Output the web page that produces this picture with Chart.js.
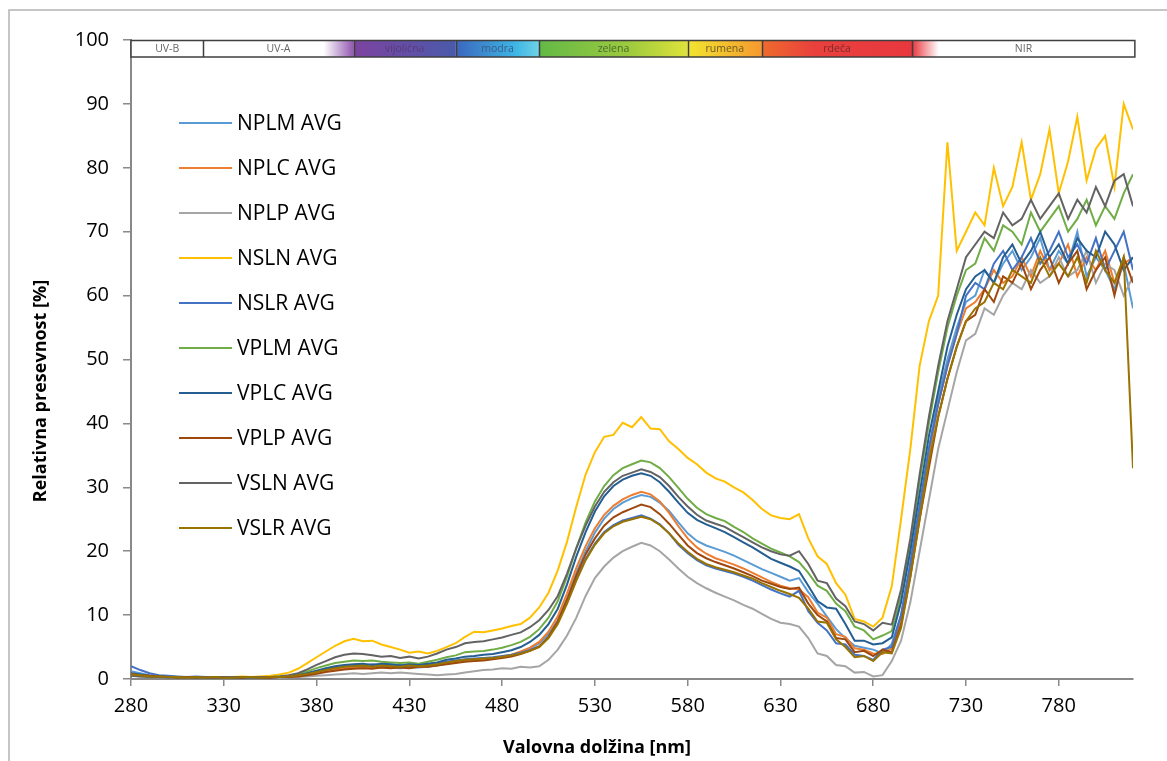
<!DOCTYPE html>
<html lang="sl">
<head>
<meta charset="UTF-8">
<title>Relativna presevnost</title>
<script src="https://cdn.jsdelivr.net/npm/chart.js@4"></script>
<style>
  html, body { margin: 0; padding: 0; background: #fff; }
  #wrap { position: relative; width: 1167px; height: 761px; }
</style>
</head>
<body>
<div id="wrap"><canvas id="chart" width="1167" height="761"></canvas></div>
<script>
// wavelength grid [nm]
const wavelengths = [
  280,285,290,295,300,305,310,315,320,325,
  330,335,340,345,350,355,360,365,370,375,
  380,385,390,395,400,405,410,415,420,425,
  430,435,440,445,450,455,460,465,470,475,
  480,485,490,495,500,505,510,515,520,525,
  530,535,540,545,550,555,560,565,570,575,
  580,585,590,595,600,605,610,615,620,625,
  630,635,640,645,650,655,660,665,670,675,
  680,685,690,695,700,705,710,715,720,725,
  730,735,740,745,750,755,760,765,770,775,
  780,785,790,795,800,805,810,815,820
];
const xTicks = [280, 330, 380, 430, 480, 530, 580, 630, 680, 730, 780];
const yTicks = [0, 10, 20, 30, 40, 50, 60, 70, 80, 90, 100];

const seriesNames = ['NPLM AVG', 'NPLC AVG', 'NPLP AVG', 'NSLN AVG', 'NSLR AVG',
                     'VPLM AVG', 'VPLC AVG', 'VPLP AVG', 'VSLN AVG', 'VSLR AVG'];
const seriesColors = ['#5B9BD5', '#ED7D31', '#A5A5A5', '#FFC000', '#4472C4',
                      '#70AD47', '#255E91', '#9E480E', '#636363', '#997300'];

// relative transmittance [%]
const nplm = [
  1.2,0.9,0.6,0.5,0.4,0.3,0.3,0.2,0.3,0.2,
  0.2,0.3,0.2,0.2,0.3,0.2,0.3,0.4,0.5,0.7,
  1.0,1.3,1.6,1.7,1.8,1.9,1.8,1.9,1.8,1.7,
  1.8,1.8,1.9,2.1,2.4,2.6,2.8,2.9,3.0,3.2,
  3.4,3.7,4.1,4.7,5.6,7.0,9.2,12.6,16.6,20.0,
  22.9,25.1,26.6,27.6,28.3,28.8,28.5,27.6,26.3,24.5,
  22.8,21.6,20.9,20.4,19.9,19.3,18.6,17.9,17.2,16.6,
  16.0,15.4,15.8,13.6,11.8,9.8,7.8,6.4,5.2,4.9,
  4.6,4.0,5.5,10,18,27,36,44,50,55,
  59,60,64,62,65,67,64,66,69,64,
  67,65,70,63,66,64,61,65,58
];
const nplc = [
  0.8,0.6,0.5,0.4,0.3,0.3,0.2,0.3,0.2,0.3,
  0.2,0.2,0.3,0.2,0.3,0.2,0.3,0.3,0.4,0.6,
  0.9,1.2,1.5,1.7,1.8,1.8,1.9,1.8,1.8,1.9,
  1.8,1.9,2.0,2.2,2.5,2.7,2.9,3.0,3.1,3.3,
  3.5,3.8,4.3,4.9,5.8,7.4,9.8,13.4,17.4,20.8,
  23.6,25.7,27.1,28.1,28.8,29.3,28.9,27.8,26.0,23.9,
  22.0,20.6,19.6,18.9,18.4,17.9,17.3,16.6,15.9,15.2,
  14.6,14.2,14.0,12.8,10.4,9.6,7.0,6.6,4.8,4.6,
  4.0,3.9,4.8,9,17,26,35,43,49,54,
  58,59,61,64,62,63,66,63,67,64,
  65,68,63,66,64,67,62,65,66
];
const nplp = [
  0.5,0.4,0.3,0.3,0.2,0.2,0.3,0.2,0.2,0.2,
  0.3,0.2,0.2,0.2,0.3,0.2,0.2,0.3,0.3,0.4,
  0.5,0.6,0.7,0.8,0.9,0.8,0.9,1.0,0.9,1.0,
  0.9,0.8,0.7,0.6,0.7,0.8,1.0,1.2,1.4,1.5,
  1.7,1.6,1.9,1.8,2.0,3.0,4.6,6.8,9.6,13.0,
  15.8,17.6,19.0,20.0,20.7,21.3,20.9,20.0,18.7,17.3,
  16.0,15.0,14.2,13.5,12.9,12.3,11.6,11.0,10.2,9.4,
  8.8,8.6,8.2,6.4,4.0,3.6,2.2,2.0,1.0,1.1,
  0.4,0.6,2.8,6,12,20,28,36,42,48,
  53,54,58,57,60,62,61,64,62,63,
  66,63,64,67,62,65,64,60,63
];
const nsln = [
  0.6,0.5,0.4,0.3,0.4,0.3,0.2,0.3,0.3,0.2,
  0.3,0.3,0.4,0.3,0.4,0.5,0.7,1.0,1.6,2.5,
  3.4,4.3,5.2,5.9,6.3,5.9,6.0,5.4,5.0,4.6,
  4.1,4.3,4.0,4.4,5.0,5.6,6.6,7.4,7.3,7.6,
  7.9,8.3,8.6,9.6,11.2,13.5,17,21.5,27,32,
  35.5,37.9,38.2,40.1,39.4,41.0,39.2,39.1,37.2,36.0,
  34.6,33.6,32.3,31.4,30.9,30.0,29.2,28.0,26.6,25.6,
  25.2,25.0,25.8,22.0,19.2,18.0,15.0,13.2,9.4,9.0,
  8.2,9.6,14.5,25,36,49,56,60,84,67,
  70,73,71,80,74,77,84,75,79,86,
  76,81,88,78,83,85,77,90,86
];
const nslr = [
  2.0,1.4,0.9,0.6,0.5,0.4,0.3,0.4,0.3,0.3,
  0.2,0.3,0.3,0.2,0.3,0.2,0.3,0.4,0.6,0.9,
  1.2,1.5,1.8,2.0,2.2,2.1,2.3,2.2,2.1,2.2,
  2.0,2.2,2.3,2.5,2.7,2.9,3.1,3.2,3.3,3.4,
  3.6,3.8,4.1,4.5,5.1,6.5,8.8,12.0,15.6,18.8,
  21.2,23.0,24.1,24.8,25.2,25.6,25.1,24.2,22.8,21.0,
  19.7,18.6,17.8,17.3,16.9,16.5,16.0,15.4,14.7,14.0,
  13.4,12.9,13.8,10.6,8.8,7.6,5.6,5.4,3.8,3.6,
  3.0,4.6,5.0,10,18,27,36,43,49,54,
  60,62,61,65,67,64,66,69,65,67,
  70,66,68,65,69,64,67,70,64
];
const vplm = [
  0.6,0.5,0.4,0.3,0.3,0.2,0.3,0.2,0.2,0.3,
  0.2,0.2,0.3,0.2,0.2,0.3,0.4,0.5,0.8,1.2,
  1.7,2.1,2.5,2.7,2.9,2.8,2.9,2.7,2.6,2.5,
  2.6,2.4,2.7,3.0,3.4,3.7,4.2,4.3,4.4,4.6,
  4.9,5.3,5.8,6.6,7.8,9.6,12.2,16.0,20.5,24.5,
  27.8,30.2,31.9,33.0,33.6,34.2,33.9,33.0,31.6,29.9,
  28.2,26.8,25.8,25.2,24.7,23.8,23.0,22.0,21.2,20.4,
  19.8,19.2,18.3,16.6,14.6,13.8,11.8,10.6,8.2,7.6,
  6.2,6.8,7.5,13,21,31,40,48,55,60,
  64,65,69,67,71,70,68,73,70,72,
  74,70,72,75,71,74,72,76,79
];
const vplc = [
  0.9,0.7,0.5,0.4,0.3,0.3,0.2,0.3,0.2,0.2,
  0.3,0.2,0.2,0.3,0.2,0.3,0.3,0.4,0.6,0.9,
  1.3,1.7,2.0,2.2,2.3,2.4,2.2,2.4,2.3,2.1,
  2.3,2.2,2.4,2.6,3.0,3.2,3.5,3.6,3.8,3.9,
  4.2,4.5,5.0,5.8,6.9,8.6,11.0,14.8,19.2,23.0,
  26.2,28.6,30.2,31.2,31.8,32.2,31.8,30.8,29.3,27.6,
  26.0,24.9,24.2,23.6,23.0,22.2,21.4,20.6,19.7,18.8,
  18.2,17.6,16.9,14.6,12.2,11.2,11.0,8.6,6.0,6.0,
  5.4,5.6,6.5,12,20,29,38,45,52,57,
  61,63,64,62,66,68,65,67,70,66,
  68,65,69,67,66,70,68,64,66
];
const vplp = [
  0.8,0.6,0.5,0.4,0.3,0.2,0.3,0.2,0.3,0.2,
  0.2,0.3,0.2,0.3,0.2,0.2,0.3,0.3,0.4,0.6,
  0.8,1.1,1.3,1.5,1.6,1.7,1.6,1.8,1.7,1.8,
  1.7,1.9,1.9,2.1,2.3,2.5,2.7,2.8,2.9,3.1,
  3.3,3.5,3.9,4.4,5.1,6.6,9.0,12.4,16.2,19.5,
  22.0,24.0,25.3,26.1,26.7,27.3,26.9,25.8,24.3,22.6,
  20.9,19.7,18.9,18.3,17.8,17.3,16.7,16.1,15.4,14.9,
  14.4,14.1,14.3,11.8,10.0,9.0,6.4,6.2,4.2,4.4,
  3.6,4.6,4.2,8.5,16,25,33,41,47,52,
  56,57,61,59,63,62,65,61,64,66,
  62,65,67,61,64,66,60,66,62
];
const vsln = [
  0.5,0.4,0.3,0.3,0.2,0.3,0.2,0.2,0.3,0.2,
  0.2,0.3,0.3,0.2,0.3,0.3,0.4,0.6,0.9,1.5,
  2.2,2.8,3.4,3.8,4.0,3.9,3.7,3.5,3.6,3.3,
  3.5,3.2,3.5,4.0,4.6,5.0,5.6,5.8,5.9,6.2,
  6.5,6.9,7.3,8.1,9.2,10.8,13.0,16.5,20.5,24.0,
  27.0,29.3,30.8,31.8,32.3,32.8,32.4,31.6,30.2,28.5,
  27.0,25.7,24.8,24.3,23.8,23.0,22.2,21.4,20.6,20.0,
  19.5,19.3,20.0,18.0,15.4,15.0,12.6,11.4,9.0,8.6,
  7.6,8.8,8.5,14,22,32,41,49,56,61,
  66,68,70,69,73,71,72,75,72,74,
  76,72,75,73,77,74,78,79,74
];
const vslr = [
  0.7,0.6,0.4,0.4,0.3,0.3,0.2,0.3,0.2,0.3,
  0.2,0.2,0.3,0.3,0.2,0.3,0.3,0.4,0.6,0.8,
  1.1,1.4,1.7,1.9,2.0,2.1,1.9,2.1,2.0,1.9,
  2.1,2.0,2.1,2.3,2.6,2.8,3.0,3.1,3.2,3.3,
  3.5,3.7,4.0,4.4,5.0,6.4,8.6,11.8,15.4,18.6,
  21.0,22.8,23.9,24.6,25.0,25.4,25.0,24.1,22.8,21.2,
  19.9,18.8,18.0,17.5,17.1,16.7,16.2,15.7,15.0,14.4,
  13.8,13.3,12.7,11.0,9.0,8.8,6.2,5.0,3.4,3.6,
  2.8,4.2,4.0,8,16,25,34,41,47,52,
  56,58,59,62,61,64,63,62,66,63,
  65,63,66,62,67,64,62,66,33
];
const seriesValues = [nplm, nplc, nplp, nsln, nslr, vplm, vplc, vplp, vsln, vslr];

// spectral band on top of the plot
const bandLabels = ['UV-B', 'UV-A', 'vijolična', 'modra', 'zelena', 'rumena', 'rdeča', 'NIR'];
const bandEdges = [280, 319, 400, 455, 500, 580, 620, 701, 821];

const bandFills = [
  [[0, '#ffffff'], [1, '#ffffff']],
  [[0, '#ffffff'], [0.8, '#ffffff'], [1, '#9256b0']],
  [[0, '#7d43a0'], [1, '#4a5aab']],
  [[0, '#3b66bd'], [0.7, '#3cb4e4'], [1, '#6fd3e6']],
  [[0, '#63b947'], [0.6, '#9dca3e'], [1, '#dfe33a']],
  [[0, '#f2e530'], [1, '#f5992f']],
  [[0, '#ee6b2d'], [0.35, '#e9403d'], [1, '#e8383f']],
  [[0, '#e8383f'], [0.12, '#ffffff'], [1, '#ffffff']]
];
const bandTextColors = ['#666', '#666', '#5a3a7a', '#3b5d86', '#4a6a30', '#6a5a22', '#7a2c2c', '#666'];

const FONT = '"Open Sans", "Liberation Sans", sans-serif';

const framePlugin = {
  id: 'frame',
  beforeDraw(chart) {
    const ctx = chart.ctx;
    ctx.save();
    ctx.fillStyle = '#fff';
    ctx.fillRect(0, 0, chart.width, chart.height);
    ctx.strokeStyle = '#b4b4b4';
    ctx.lineWidth = 1.5;
    ctx.beginPath();
    ctx.moveTo(9, chart.height);
    ctx.lineTo(9, 10);
    ctx.lineTo(chart.width, 10);
    ctx.stroke();
    ctx.restore();
  }
};

const spectrumPlugin = {
  id: 'spectrum',
  afterDraw(chart) {
    const ctx = chart.ctx;
    const xs = chart.scales.x;
    const top = 40.5, bottom = 57;
    ctx.save();
    for (let i = 0; i < bandLabels.length; i++) {
      const x0 = xs.getPixelForValue(bandEdges[i]);
      const x1 = xs.getPixelForValue(bandEdges[i + 1]);
      const g = ctx.createLinearGradient(x0, 0, x1, 0);
      bandFills[i].forEach(s => g.addColorStop(s[0], s[1]));
      ctx.fillStyle = g;
      ctx.fillRect(x0, top, x1 - x0, bottom - top);
    }
    ctx.strokeStyle = '#3f3f3f';
    ctx.lineWidth = 1.5;
    ctx.beginPath();
    for (let i = 1; i < bandLabels.length; i++) {
      const x = Math.round(xs.getPixelForValue(bandEdges[i])) + 0.5;
      ctx.moveTo(x, top);
      ctx.lineTo(x, bottom);
    }
    ctx.stroke();
    const l = xs.getPixelForValue(bandEdges[0]);
    const r = xs.getPixelForValue(bandEdges[bandEdges.length - 1]);
    ctx.strokeRect(l, top, r - l, bottom - top);

    ctx.font = '10.5px ' + FONT;
    ctx.textAlign = 'center';
    ctx.textBaseline = 'middle';
    for (let i = 0; i < bandLabels.length; i++) {
      const x0 = xs.getPixelForValue(bandEdges[i]);
      const x1 = xs.getPixelForValue(bandEdges[i + 1]);
      ctx.fillStyle = bandTextColors[i];
      ctx.fillText(bandLabels[i], (x0 + x1) / 2, (top + bottom) / 2 + 0.5);
    }
    ctx.restore();
  }
};

const legendPlugin = {
  id: 'sideLegend',
  afterDraw(chart) {
    const ctx = chart.ctx;
    ctx.save();
    ctx.font = '21px ' + FONT;
    ctx.textAlign = 'left';
    ctx.textBaseline = 'middle';
    seriesNames.forEach((name, i) => {
      const y = 123 + i * 45;
      ctx.strokeStyle = seriesColors[i];
      ctx.lineWidth = 2;
      ctx.beginPath();
      ctx.moveTo(179, y);
      ctx.lineTo(232, y);
      ctx.stroke();
      ctx.fillStyle = '#000';
      ctx.fillText(name, 237, y + 1);
    });
    ctx.restore();
  }
};

const titlesPlugin = {
  id: 'axisTitles',
  afterDraw(chart) {
    const ctx = chart.ctx;
    ctx.save();
    ctx.font = 'bold 18px ' + FONT;
    ctx.fillStyle = '#000';
    ctx.textAlign = 'center';
    ctx.textBaseline = 'middle';
    ctx.fillText('Valovna dolžina [nm]', 597, 748);
    ctx.translate(41, 391);
    ctx.rotate(-Math.PI / 2);
    ctx.fillText('Relativna presevnost [%]', 0, 0);
    ctx.restore();
  }
};

const datasets = seriesNames.map((name, i) => ({
  label: name,
  data: wavelengths.map((w, j) => ({ x: w, y: seriesValues[i][j] })),
  borderColor: seriesColors[i],
  backgroundColor: seriesColors[i],
  borderWidth: 2,
  pointRadius: 0,
  tension: 0,
  fill: false,
  order: seriesNames.length - i   // later series drawn on top, like the original
}));

new Chart(document.getElementById('chart'), {
  type: 'line',
  data: { datasets },
  options: {
    responsive: false,
    animation: false,
    devicePixelRatio: 1,
    layout: { padding: { left: 0, top: 40, right: 34, bottom: 0 } },
    plugins: {
      legend: { display: false },
      tooltip: { enabled: false }
    },
    scales: {
      x: {
        type: 'linear',
        min: 280,
        max: 820,
        afterFit: s => { s.height = 82; },
        afterBuildTicks: s => { s.ticks = xTicks.map(v => ({ value: v })); },
        grid: { display: true, drawOnChartArea: false, drawTicks: true, tickLength: 7, color: '#898989', lineWidth: 1.5 },
        border: { display: true, color: '#898989', width: 2 },
        ticks: { color: '#000', font: { family: FONT, size: 20 }, padding: 8, maxRotation: 0, autoSkip: false }
      },
      y: {
        min: 0,
        max: 100,
        afterFit: s => { s.width = 131; },
        afterBuildTicks: s => { s.ticks = yTicks.map(v => ({ value: v })); },
        grid: { display: true, drawOnChartArea: false, drawTicks: true, tickLength: 8, color: '#898989', lineWidth: 1.5 },
        border: { display: true, color: '#898989', width: 2 },
        ticks: { color: '#000', font: { family: FONT, size: 20 }, padding: 14 }
      }
    }
  },
  plugins: [framePlugin, spectrumPlugin, legendPlugin, titlesPlugin]
});
</script>
</body>
</html>
